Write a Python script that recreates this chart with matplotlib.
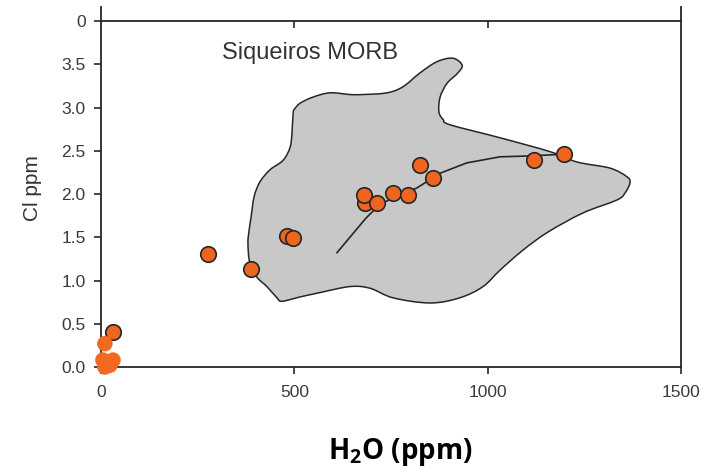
import numpy as np
import matplotlib
matplotlib.use("Agg")
import matplotlib.pyplot as plt
from matplotlib.path import Path
from matplotlib.patches import PathPatch

# ---- data -------------------------------------------------------------
# Siqueiros MORB field outline (H2O ppm, Cl ppm)
field_h2o = [515, 548, 592, 644, 678, 740, 781, 825, 869, 910, 934, 923,
             895, 877, 874, 885, 903, 1032, 1161, 1231, 1316, 1360, 1368,
             1355, 1334, 1246, 1156, 1091, 1032, 988, 928, 851, 755, 696,
             644, 566, 515, 468, 455, 429, 403, 385, 380, 383, 388, 396,
             411, 437, 471, 489, 494, 497, 502]
field_cl = [3.05, 3.12, 3.17, 3.15, 3.15, 3.17, 3.24, 3.40, 3.53, 3.57,
            3.49, 3.40, 3.28, 3.12, 2.95, 2.86, 2.80, 2.65, 2.49, 2.37,
            2.30, 2.20, 2.13, 2.01, 1.93, 1.78, 1.56, 1.35, 1.12, 0.93,
            0.80, 0.74, 0.80, 0.91, 0.93, 0.86, 0.81, 0.76, 0.80, 0.93,
            1.04, 1.20, 1.43, 1.58, 1.73, 1.97, 2.14, 2.28, 2.39, 2.54,
            2.71, 2.94, 2.99]

# degassing trend
trend_h2o = [610, 685, 721, 773, 817, 877, 946, 1032, 1109, 1197]
trend_cl = [1.32, 1.72, 1.88, 1.99, 2.07, 2.24, 2.36, 2.43, 2.44, 2.46]

# glass analyses
glass_h2o = [684, 277, 388, 480, 497, 681, 715, 756, 793, 825, 858, 1120,
             1197, 32]
glass_cl = [1.90, 1.31, 1.13, 1.51, 1.49, 1.99, 1.90, 2.01, 1.99, 2.33,
            2.19, 2.39, 2.46, 0.40]

# nearly degassed samples
low_h2o = [10, 5, 31, 10, 23]
low_cl = [0.27, 0.08, 0.08, 0.00, 0.02]

yticks = [0.0, 0.5, 1.0, 1.5, 2.0, 2.5, 3.0, 3.5, 4.0]
ytick_labels = ["0.0", "0.5", "1.0", "1.5", "2.0", "2.5", "3.0", "3.5", "0"]
xticks = [0, 500, 1000, 1500]
xtick_labels = ["0", "500", "1000", "1500"]

# ---- style ------------------------------------------------------------
plt.rcParams["font.family"] = ["Liberation Sans", "DejaVu Sans"]
plt.rcParams["mathtext.fontset"] = "custom"
plt.rcParams["mathtext.bf"] = "Open Sans:bold"
plt.rcParams["mathtext.rm"] = "Open Sans:bold"

INK = "#262626"
TXT = "#3a3a3a"
ORANGE = "#ee6520"


def closed_smooth_path(xs, ys):
    """Closed Catmull-Rom outline rendered as cubic Bezier segments."""
    p = np.column_stack([xs, ys]).astype(float)
    n = len(p)
    verts = [p[0]]
    codes = [Path.MOVETO]
    for i in range(n):
        p0, p1, p2, p3 = p[i - 1], p[i], p[(i + 1) % n], p[(i + 2) % n]
        c1 = p1 + (p2 - p0) / 6.0
        c2 = p2 - (p3 - p1) / 6.0
        verts += [c1, c2, p2]
        codes += [Path.CURVE4] * 3
    verts.append(p[0])
    codes.append(Path.CLOSEPOLY)
    return Path(verts, codes)


fig = plt.figure(figsize=(7.1, 4.68), dpi=100)
ax = fig.add_axes([101 / 710, 1 - 367 / 468, 580 / 710, 360 / 468])

ax.set_xlim(0, 1500)
ax.set_ylim(0, 4.162)

field = PathPatch(closed_smooth_path(field_h2o, field_cl),
                  facecolor="#c8c8c8", edgecolor=INK, lw=1.1, zorder=1)
ax.add_patch(field)

ax.plot(trend_h2o, trend_cl, color=INK, lw=1.2, zorder=2,
        solid_capstyle="round")

ax.scatter(glass_h2o, glass_cl, s=125, c=ORANGE, edgecolors=INK,
           linewidths=1.2, zorder=3, clip_on=False)
ax.scatter(low_h2o, low_cl, s=125, c="#f26a22", edgecolors="none",
           zorder=4, clip_on=False)

ax.text(313, 3.56, "Siqueiros MORB", fontsize=17, color="#333333",
        ha="left", va="baseline")

# axes frame
for side in ("left", "right", "bottom"):
    ax.spines[side].set_color(INK)
    ax.spines[side].set_linewidth(1.3)
ax.spines["top"].set_visible(False)

ax.set_xticks(xticks)
ax.set_xticklabels(xtick_labels)
ax.set_yticks(yticks)
ax.set_yticklabels(ytick_labels)
ax.tick_params(axis="both", direction="out", length=5, width=1.2,
               color=INK, labelcolor=TXT, labelsize=12.5)
ax.tick_params(axis="x", pad=8)
ax.tick_params(axis="y", pad=6)

# upper boundary line at Cl = 4 with inward ticks
top = ax.secondary_xaxis(4.0 / 4.162)
top.set_xticks([500, 1000])
top.tick_params(direction="in", length=5, width=1.2, color=INK,
                labeltop=False, labelbottom=False)
top.set_xticklabels([])
for s in top.spines.values():
    s.set_color(INK)
    s.set_linewidth(1.3)

fig.text(33 / 710, 1 - 188 / 468, "Cl ppm", rotation=90, fontsize=15,
         color="#333333", ha="center", va="center")
fig.text(400 / 710, 1 - 452 / 468, r"H$_\mathbf{2}$O (ppm)", fontsize=20,
         fontweight="bold", family="Open Sans", color="black",
         ha="center", va="center")

fig.savefig("out.png", dpi=100)
